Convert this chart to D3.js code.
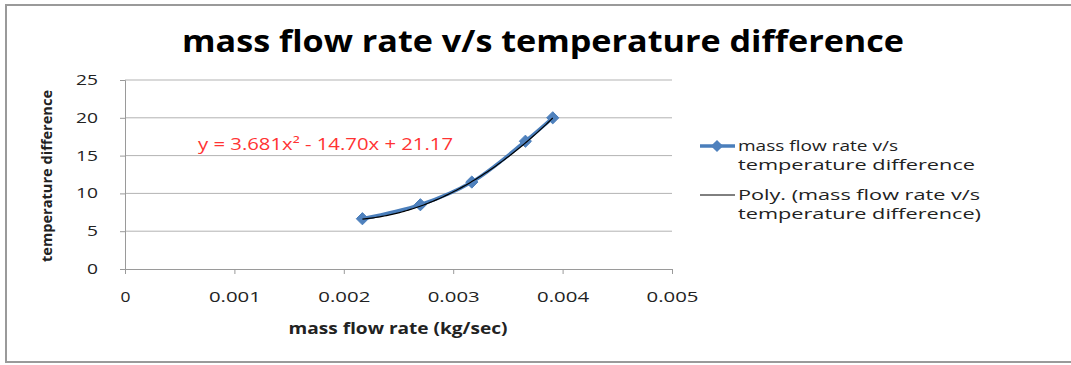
<!DOCTYPE html>
<html>
<head>
<meta charset="utf-8">
<script src="https://cdn.jsdelivr.net/npm/d3@7"></script>
<style>
  body { margin: 0; background: #fff; }
  text { font-family: "Open Sans", sans-serif; }
</style>
</head>
<body>
<svg></svg>
<script>
// data
const massFlow = [0.00217, 0.00270, 0.00317, 0.00366, 0.00391];   // kg/sec
const tempDiff = [6.65, 8.5, 11.5, 16.9, 20.0];
const xTicks = [0, 0.001, 0.002, 0.003, 0.004, 0.005];
const yTicks = [0, 5, 10, 15, 20, 25];
// trend line coefficients from the label (x in g/sec): a x^2 + b x + c
const polyCoef = [3.681, -14.70, 21.17];
const seriesName = "mass flow rate v/s temperature difference";

(() => {
    const width = 1071;
    const height = 365;
    const margin = { left: 125, right: 399, top: 80, bottom: 96 };

    const svg = d3.select("svg")
        .attr("width", width)
        .attr("height", height);

    // outer frame
    svg.append("rect")
        .attr("x", 6).attr("y", 5)
        .attr("width", 1080).attr("height", 357)
        .attr("fill", "none")
        .attr("stroke", "#9a9a9a")
        .attr("stroke-width", 2);

    const x = d3.scaleLinear()
        .domain([0, 0.005])
        .range([margin.left, width - margin.right]);

    const y = d3.scaleLinear()
        .domain([0, 25])
        .range([height - margin.bottom, margin.top]);

    // gridlines
    svg.append("g")
        .selectAll("line")
        .data(yTicks.slice(1))
        .enter()
        .append("line")
        .attr("x1", x(0)).attr("x2", x(0.005))
        .attr("y1", d => y(d)).attr("y2", d => y(d))
        .attr("stroke", "#b3b3b3");

    const xAxis = svg.append("g")
        .attr("transform", `translate(0,${y(0)})`)
        .call(d3.axisBottom(x).tickValues(xTicks).tickSize(5).tickPadding(17)
            .tickFormat(d => d === 0 ? "0" : d3.format(".3f")(d)))
        .attr("font-size", 15)
        .attr("font-family", "Open Sans");
    xAxis.select(".domain").attr("stroke", "#9a9a9a");
    xAxis.selectAll(".tick line").attr("stroke", "#9a9a9a");
    xAxis.selectAll(".tick text")
        .attr("fill", "#222")
        .attr("textLength", d => d === 0 ? 10 : 52)
        .attr("lengthAdjust", "spacingAndGlyphs");

    const yAxis = svg.append("g")
        .attr("transform", `translate(${x(0)},0)`)
        .call(d3.axisLeft(y).tickValues(yTicks).tickSize(5).tickPadding(22))
        .attr("font-size", 14)
        .attr("font-family", "Open Sans");
    yAxis.select(".domain").attr("stroke", "#9a9a9a");
    yAxis.selectAll(".tick line").attr("stroke", "#9a9a9a");
    yAxis.selectAll(".tick text")
        .attr("fill", "#222")
        .attr("textLength", d => String(d).length * 11)
        .attr("lengthAdjust", "spacingAndGlyphs");

    // title and axis labels
    svg.append("text")
        .attr("x", 543).attr("y", 52)
        .attr("text-anchor", "middle")
        .attr("font-size", 30)
        .attr("font-weight", "bold")
        .attr("textLength", 722)
        .attr("lengthAdjust", "spacingAndGlyphs")
        .text(seriesName);

    svg.append("text")
        .attr("x", 398).attr("y", 334)
        .attr("text-anchor", "middle")
        .attr("font-size", 16)
        .attr("font-weight", "bold")
        .attr("fill", "#222")
        .attr("textLength", 219)
        .attr("lengthAdjust", "spacingAndGlyphs")
        .text("mass flow rate (kg/sec)");

    svg.append("text")
        .attr("transform", "translate(52,176) rotate(-90)")
        .attr("text-anchor", "middle")
        .attr("font-size", 15)
        .attr("font-weight", "bold")
        .attr("fill", "#222")
        .attr("textLength", 172)
        .attr("lengthAdjust", "spacingAndGlyphs")
        .text("temperature difference");

    // data series
    const points = massFlow.map((m, i) => [m, tempDiff[i]]);

    const line = d3.line()
        .x(d => x(d[0]))
        .y(d => y(d[1]))
        .curve(d3.curveCatmullRom);

    svg.append("path")
        .attr("d", line(points))
        .attr("fill", "none")
        .attr("stroke", "#4a7ebb")
        .attr("stroke-width", 3.5);

    const diamond = d3.symbol().type(d3.symbolDiamond2).size(95);

    svg.append("g")
        .selectAll("path")
        .data(points)
        .enter()
        .append("path")
        .attr("d", diamond)
        .attr("transform", d => `translate(${x(d[0])},${y(d[1])})`)
        .attr("fill", "#4f81bd")
        .attr("stroke", "#4a7ebb");

    // polynomial trend line
    const gps = d3.range(massFlow[0] * 1000, massFlow[massFlow.length - 1] * 1000 + 0.0001, 0.02);
    const trend = gps.map(g => [g / 1000, polyCoef[0] * g * g + polyCoef[1] * g + polyCoef[2]]);

    svg.append("path")
        .attr("d", d3.line().x(d => x(d[0])).y(d => y(d[1]))(trend))
        .attr("fill", "none")
        .attr("stroke", "#000")
        .attr("stroke-width", 1.2);

    svg.append("text")
        .attr("x", 198).attr("y", 150)
        .attr("font-size", 16)
        .attr("fill", "#ff3333")
        .attr("textLength", 255)
        .attr("lengthAdjust", "spacingAndGlyphs")
        .text("y = 3.681x² - 14.70x + 21.17");

    // legend
    const legend = svg.append("g");
    legend.append("line")
        .attr("x1", 700).attr("x2", 735)
        .attr("y1", 146).attr("y2", 146)
        .attr("stroke", "#4a7ebb").attr("stroke-width", 3.5);
    legend.append("path")
        .attr("d", diamond)
        .attr("transform", "translate(717,146)")
        .attr("fill", "#4f81bd");
    legend.append("line")
        .attr("x1", 700).attr("x2", 735)
        .attr("y1", 195).attr("y2", 195)
        .attr("stroke", "#000").attr("stroke-width", 1);

    const legendLines = [
        ["mass flow rate v/s", 151, 160],
        ["temperature difference", 170, 237],
        ["Poly. (mass flow rate v/s", 200, 242],
        ["temperature difference)", 219, 243]
    ];
    legend.selectAll("text")
        .data(legendLines)
        .enter()
        .append("text")
        .attr("x", 738)
        .attr("y", d => d[1])
        .attr("font-size", 15)
        .attr("fill", "#222")
        .attr("textLength", d => d[2])
        .attr("lengthAdjust", "spacingAndGlyphs")
        .text(d => d[0]);
})();
</script>
</body>
</html>
